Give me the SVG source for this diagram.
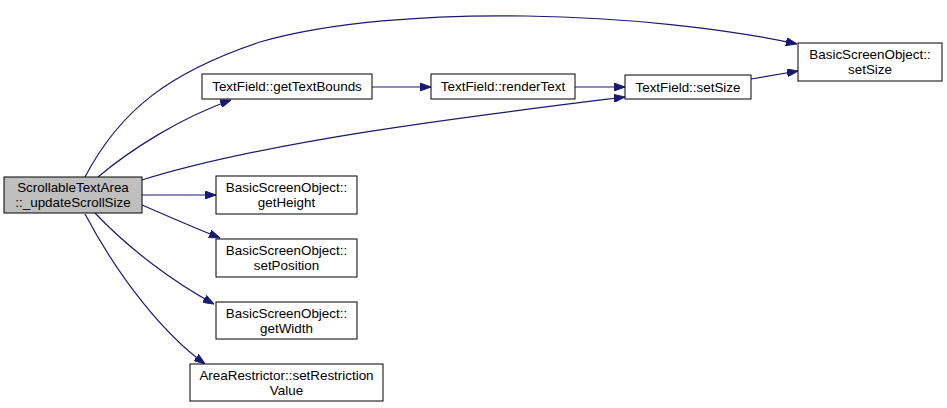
<svg xmlns="http://www.w3.org/2000/svg" width="947" height="408" viewBox="0 0 947 408">
<defs>
<marker id="ah" markerWidth="11" markerHeight="8" refX="11" refY="4" orient="auto" markerUnits="userSpaceOnUse">
<path d="M0,0 L11,4 L0,8 Z" fill="#191970" stroke="#191970"/>
</marker>
<style>
.n rect{fill:#fff;stroke:#000;stroke-width:1}
.n.main rect{fill:#bfbfbf}
.n text{font-family:"Liberation Sans",Arial,sans-serif;font-size:13.4px;fill:#000;text-anchor:middle}
.e path{fill:none;stroke:#191970;stroke-width:1.2;marker-end:url(#ah)}
</style>
</defs>
<rect width="947" height="408" fill="#fff"/>
<g id="connectors" class="e">
<path d="M85,177 C120,110 170,72 260,42 C400,2 650,12 797,44"/>
<path d="M98,177 C130,150 180,118 231,100"/>
<path d="M142,180 C270,140 480,115 625,97"/>
<path d="M142,195 L216,195"/>
<path d="M142,205 C165,215 195,228 220,238"/>
<path d="M95,213 C130,250 175,283 214,304"/>
<path d="M85,214 C120,280 165,335 205,364"/>
<path d="M372,87 L431,87"/>
<path d="M575,87 L625,87"/>
<path d="M751,79 L798,71"/>
</g>
<g id="n_main" class="n main"><rect x="4" y="177" width="138" height="36"/><text x="73" y="192">ScrollableTextArea</text><text x="73" y="207">::_updateScrollSize</text></g>
<g id="n_gettextbounds" class="n"><rect x="202" y="74" width="170" height="25"/><text x="287" y="91">TextField::getTextBounds</text></g>
<g id="n_rendertext" class="n"><rect x="431" y="74" width="144" height="25"/><text x="503" y="91">TextField::renderText</text></g>
<g id="n_tfsetsize" class="n"><rect x="625" y="75" width="126" height="24"/><text x="688" y="92">TextField::setSize</text></g>
<g id="n_bsosetsize" class="n"><rect x="798" y="43" width="144" height="38"/><text x="870" y="59">BasicScreenObject::</text><text x="870" y="74">setSize</text></g>
<g id="n_getheight" class="n"><rect x="216" y="176" width="141" height="38"/><text x="286.5" y="192">BasicScreenObject::</text><text x="286.5" y="207">getHeight</text></g>
<g id="n_setposition" class="n"><rect x="216" y="239" width="141" height="38"/><text x="286.5" y="255">BasicScreenObject::</text><text x="286.5" y="270">setPosition</text></g>
<g id="n_getwidth" class="n"><rect x="216" y="302" width="141" height="37"/><text x="286.5" y="318">BasicScreenObject::</text><text x="286.5" y="333">getWidth</text></g>
<g id="n_arearestrictor" class="n"><rect x="190" y="364" width="193" height="37"/><text x="286.5" y="380">AreaRestrictor::setRestriction</text><text x="286.5" y="395">Value</text></g>
</svg>
